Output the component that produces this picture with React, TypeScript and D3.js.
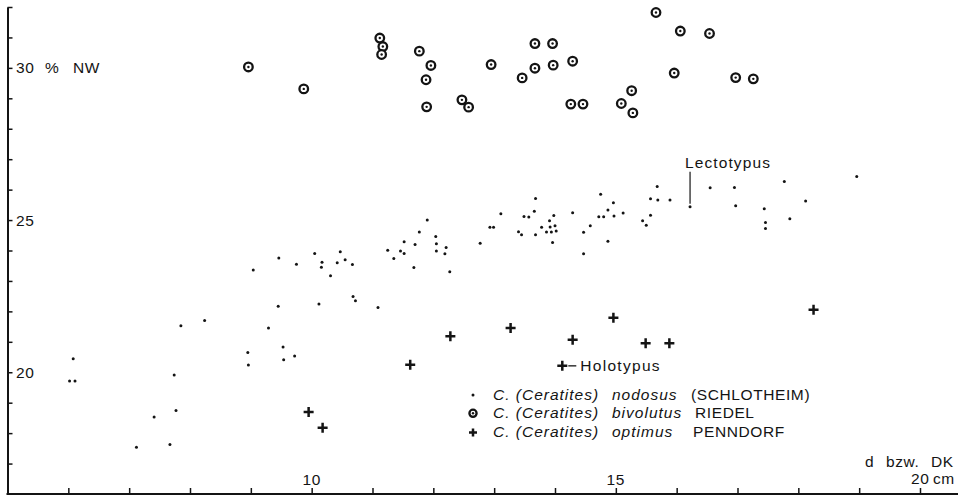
import React, { useEffect, useRef } from 'react';
import * as d3 from 'd3';

// C. (Ceratites) nodosus - dots
const nodosusX = [6.02, 6.11, 6.08, 7.12, 7.41, 7.67, 7.77, 7.74, 7.85, 8.24, 8.95, 8.96, 9.04, 9.46, 9.75, 10.05, 10.12, 9.45, 9.29, 9.53, 9.54, 9.72, 10.17, 10.16, 10.31, 10.42, 10.47, 10.55, 10.67, 10.68, 10.72, 11.09, 11.25, 11.35, 11.46, 11.52, 11.52, 11.68, 11.70, 11.77, 11.90, 12.04, 12.05, 12.05, 12.21, 12.19, 12.27, 12.77, 12.93, 12.99, 13.11, 13.40, 13.45, 13.49, 13.57, 13.66, 13.68, 13.68, 13.78, 13.86, 13.91, 13.92, 13.94, 13.96, 13.98, 14.00, 14.02, 14.29, 14.47, 14.47, 14.58, 14.72, 14.80, 14.75, 14.87, 14.96, 14.87, 14.97, 15.12, 15.44, 15.50, 15.57, 15.57, 15.68, 15.69, 15.89, 16.22, 16.55, 16.95, 16.97, 17.44, 17.46, 17.46, 17.77, 17.86, 18.12, 18.96];
const nodosusY = [19.71, 19.71, 20.44, 17.54, 18.53, 17.63, 18.74, 19.91, 21.53, 21.70, 20.65, 20.24, 23.36, 23.75, 23.55, 23.90, 22.24, 22.17, 21.45, 20.83, 20.41, 20.53, 23.61, 23.45, 23.17, 23.60, 23.96, 23.70, 23.54, 22.49, 22.35, 22.13, 24.01, 23.74, 23.98, 24.29, 23.90, 23.44, 24.20, 24.61, 25.00, 24.46, 24.22, 23.98, 24.10, 23.89, 23.30, 24.24, 24.76, 24.76, 25.21, 24.62, 24.52, 25.12, 25.10, 25.29, 25.71, 24.52, 24.76, 24.61, 24.98, 24.77, 24.61, 24.26, 25.15, 24.81, 24.64, 25.24, 24.60, 23.89, 24.81, 25.11, 25.11, 25.85, 25.33, 25.57, 24.30, 25.13, 25.23, 24.98, 24.83, 25.16, 25.70, 26.10, 25.66, 25.66, 25.44, 26.06, 26.07, 25.47, 25.37, 24.92, 24.72, 26.27, 25.04, 25.63, 26.43];

// C. (Ceratites) bivolutus - ringed circles
const bivolutusX = [8.96, 9.87, 11.12, 11.17, 11.15, 11.77, 11.96, 11.88, 11.89, 12.47, 12.58, 12.95, 13.67, 13.96, 13.67, 13.97, 14.29, 13.46, 14.26, 14.46, 15.26, 15.09, 15.28, 15.66, 16.06, 16.54, 15.96, 16.97, 17.26];
const bivolutusY = [30.03, 29.31, 30.98, 30.70, 30.44, 30.55, 30.08, 29.61, 28.72, 28.95, 28.71, 30.11, 30.80, 30.80, 29.99, 30.09, 30.22, 29.67, 28.81, 28.81, 29.25, 28.83, 28.52, 31.82, 31.21, 31.13, 29.83, 29.68, 29.64];

// C. (Ceratites) optimus - crosses
const optimusX = [9.95, 10.18, 11.62, 12.28, 13.27, 14.29, 14.96, 14.12, 15.49, 15.88, 18.25];
const optimusY = [18.69, 18.18, 20.25, 21.18, 21.45, 21.07, 21.79, 20.21, 20.95, 20.95, 22.05];

const lectotypus = { x: 16.22, y: 25.44 };
const holotypus = { x: 14.12, y: 20.21 };

const yTicks = d3.range(17, 33);
const xTicks = d3.range(6, 21);
const yLabels = [20, 25];
const xLabels = [10, 15];

const legendRows = [
  { genus: 'C. (Ceratites)', species: 'nodosus', author: '(SCHLOTHEIM)', sym: 'dot' },
  { genus: 'C. (Ceratites)', species: 'bivolutus', author: 'RIEDEL', sym: 'ring' },
  { genus: 'C. (Ceratites)', species: 'optimus', author: 'PENNDORF', sym: 'cross' },
];

const font = '"Liberation Sans", Arial, sans-serif';

function App() {
  const ref = useRef<SVGSVGElement>(null);

  useEffect(() => {
    const width = 964;
    const height = 495;
    const svg = d3.select(ref.current);
    svg.selectAll('*').remove();

    const x = d3.scaleLinear().domain([5, 20]).range([7.5, 920]);
    const y = d3.scaleLinear().domain([16, 32]).range([494, 7]);
    const ink = '#141414';

    svg.append('rect').attr('width', width).attr('height', height).attr('fill', '#fff');

    // y axis, ticks pointing inward
    const yAxis = svg.append('g')
      .attr('transform', `translate(${x(5)},0)`)
      .call(d3.axisLeft(y).tickValues(yTicks).tickSize(-5).tickSizeOuter(0).tickFormat(() => ''));
    yAxis.select('.domain').attr('stroke', ink).attr('stroke-width', 2);
    yAxis.selectAll('.tick line').attr('stroke', ink).attr('stroke-width', 1.5);

    // x axis, ticks pointing up
    const xAxis = svg.append('g')
      .attr('transform', `translate(0,${y(16)})`)
      .call(d3.axisBottom(x).tickValues(xTicks).tickSize(-6).tickSizeOuter(0).tickFormat(() => ''));
    xAxis.select('.domain').remove();
    xAxis.selectAll('.tick line').attr('stroke', ink).attr('stroke-width', 1.5);
    svg.append('line')
      .attr('x1', x(5) - 1).attr('x2', 958)
      .attr('y1', y(16)).attr('y2', y(16))
      .attr('stroke', ink).attr('stroke-width', 2);

    const txt = (sel: any) => sel
      .attr('font-family', font)
      .attr('font-size', 15.5)
      .attr('fill', ink)
      .attr('letter-spacing', 0.6);

    // y labels
    svg.selectAll('.ylab').data(yLabels).enter().append('text')
      .call(txt)
      .attr('x', 16).attr('y', d => y(d) + 5.5)
      .text(d => d);
    const t30 = svg.append('text').call(txt).attr('y', y(30) + 5.5);
    t30.append('tspan').attr('x', 16).text('30');
    t30.append('tspan').attr('x', 45).text('%');
    t30.append('tspan').attr('x', 73).text('NW');

    // x labels
    svg.selectAll('.xlab').data(xLabels).enter().append('text')
      .call(txt)
      .attr('x', d => x(d)).attr('y', 485).attr('text-anchor', 'middle')
      .text(d => d);
    const t20 = svg.append('text').call(txt).attr('y', 484);
    t20.append('tspan').attr('x', 911).text('20');
    t20.append('tspan').attr('x', 933).text('cm');
    const tdk = svg.append('text').call(txt).attr('y', 467);
    tdk.append('tspan').attr('x', 865).text('d');
    tdk.append('tspan').attr('x', 886).text('bzw.');
    tdk.append('tspan').attr('x', 931).text('DK');

    // symbols
    const dot = (g: any, cx: number, cy: number) => g.append('circle')
      .attr('cx', cx).attr('cy', cy).attr('r', 1.5).attr('fill', ink);
    const ring = (g: any, cx: number, cy: number, r = 4.3) => {
      g.append('circle').attr('cx', cx).attr('cy', cy).attr('r', r)
        .attr('fill', '#fff').attr('stroke', ink).attr('stroke-width', 2.3);
      g.append('circle').attr('cx', cx).attr('cy', cy).attr('r', 1.2).attr('fill', ink);
    };
    const cross = (g: any, cx: number, cy: number, s = 5) => {
      g.append('path')
        .attr('d', `M${cx - s},${cy}H${cx + s}M${cx},${cy - s}V${cy + s}`)
        .attr('stroke', ink).attr('stroke-width', 2.5).attr('fill', 'none');
    };

    const pts = svg.append('g');
    nodosusX.forEach((d, i) => dot(pts, x(d), y(nodosusY[i])));
    bivolutusX.forEach((d, i) => ring(pts, x(d), y(bivolutusY[i])));
    optimusX.forEach((d, i) => cross(pts, x(d), y(optimusY[i])));

    // Lectotypus marker
    const lx = x(lectotypus.x);
    const ly = y(lectotypus.y);
    svg.append('line')
      .attr('x1', lx).attr('x2', lx).attr('y1', ly - 3).attr('y2', ly - 35)
      .attr('stroke', ink).attr('stroke-width', 1.2);
    svg.append('text').call(txt).attr('letter-spacing', 1.1)
      .attr('x', lx - 5).attr('y', ly - 39).text('Lectotypus');

    // Holotypus marker
    const hx = x(holotypus.x);
    const hy = y(holotypus.y);
    svg.append('line')
      .attr('x1', hx + 6).attr('x2', hx + 14).attr('y1', hy).attr('y2', hy)
      .attr('stroke', ink).attr('stroke-width', 1.3);
    svg.append('text').call(txt).attr('letter-spacing', 1.3)
      .attr('x', hx + 18).attr('y', hy + 5.5)
      .text('Holotypus');

    // legend
    const lg = svg.append('g');
    legendRows.forEach((r, i) => {
      const by = 400 + i * 18.3;
      const sy = by - 5;
      if (r.sym === 'dot') dot(lg, 473, sy);
      if (r.sym === 'ring') ring(lg, 473, sy, 3.6);
      if (r.sym === 'cross') cross(lg, 473, sy + 1, 4);
      const t = lg.append('text').call(txt).attr('y', by);
      t.append('tspan').attr('x', 493).attr('font-style', 'italic').attr('letter-spacing', 1.0).text(r.genus);
      t.append('tspan').attr('x', 612).attr('font-style', 'italic').attr('letter-spacing', 1.0).text(r.species);
      t.append('tspan').attr('x', i === 0 ? 691 : i === 1 ? 695 : 693).text(r.author);
    });
  }, []);

  return (
    <div style={{ position: 'absolute', left: 0, top: 0 }}>
      <svg ref={ref} width={964} height={495} style={{ display: 'block' }} />
    </div>
  );
}

export default App;
